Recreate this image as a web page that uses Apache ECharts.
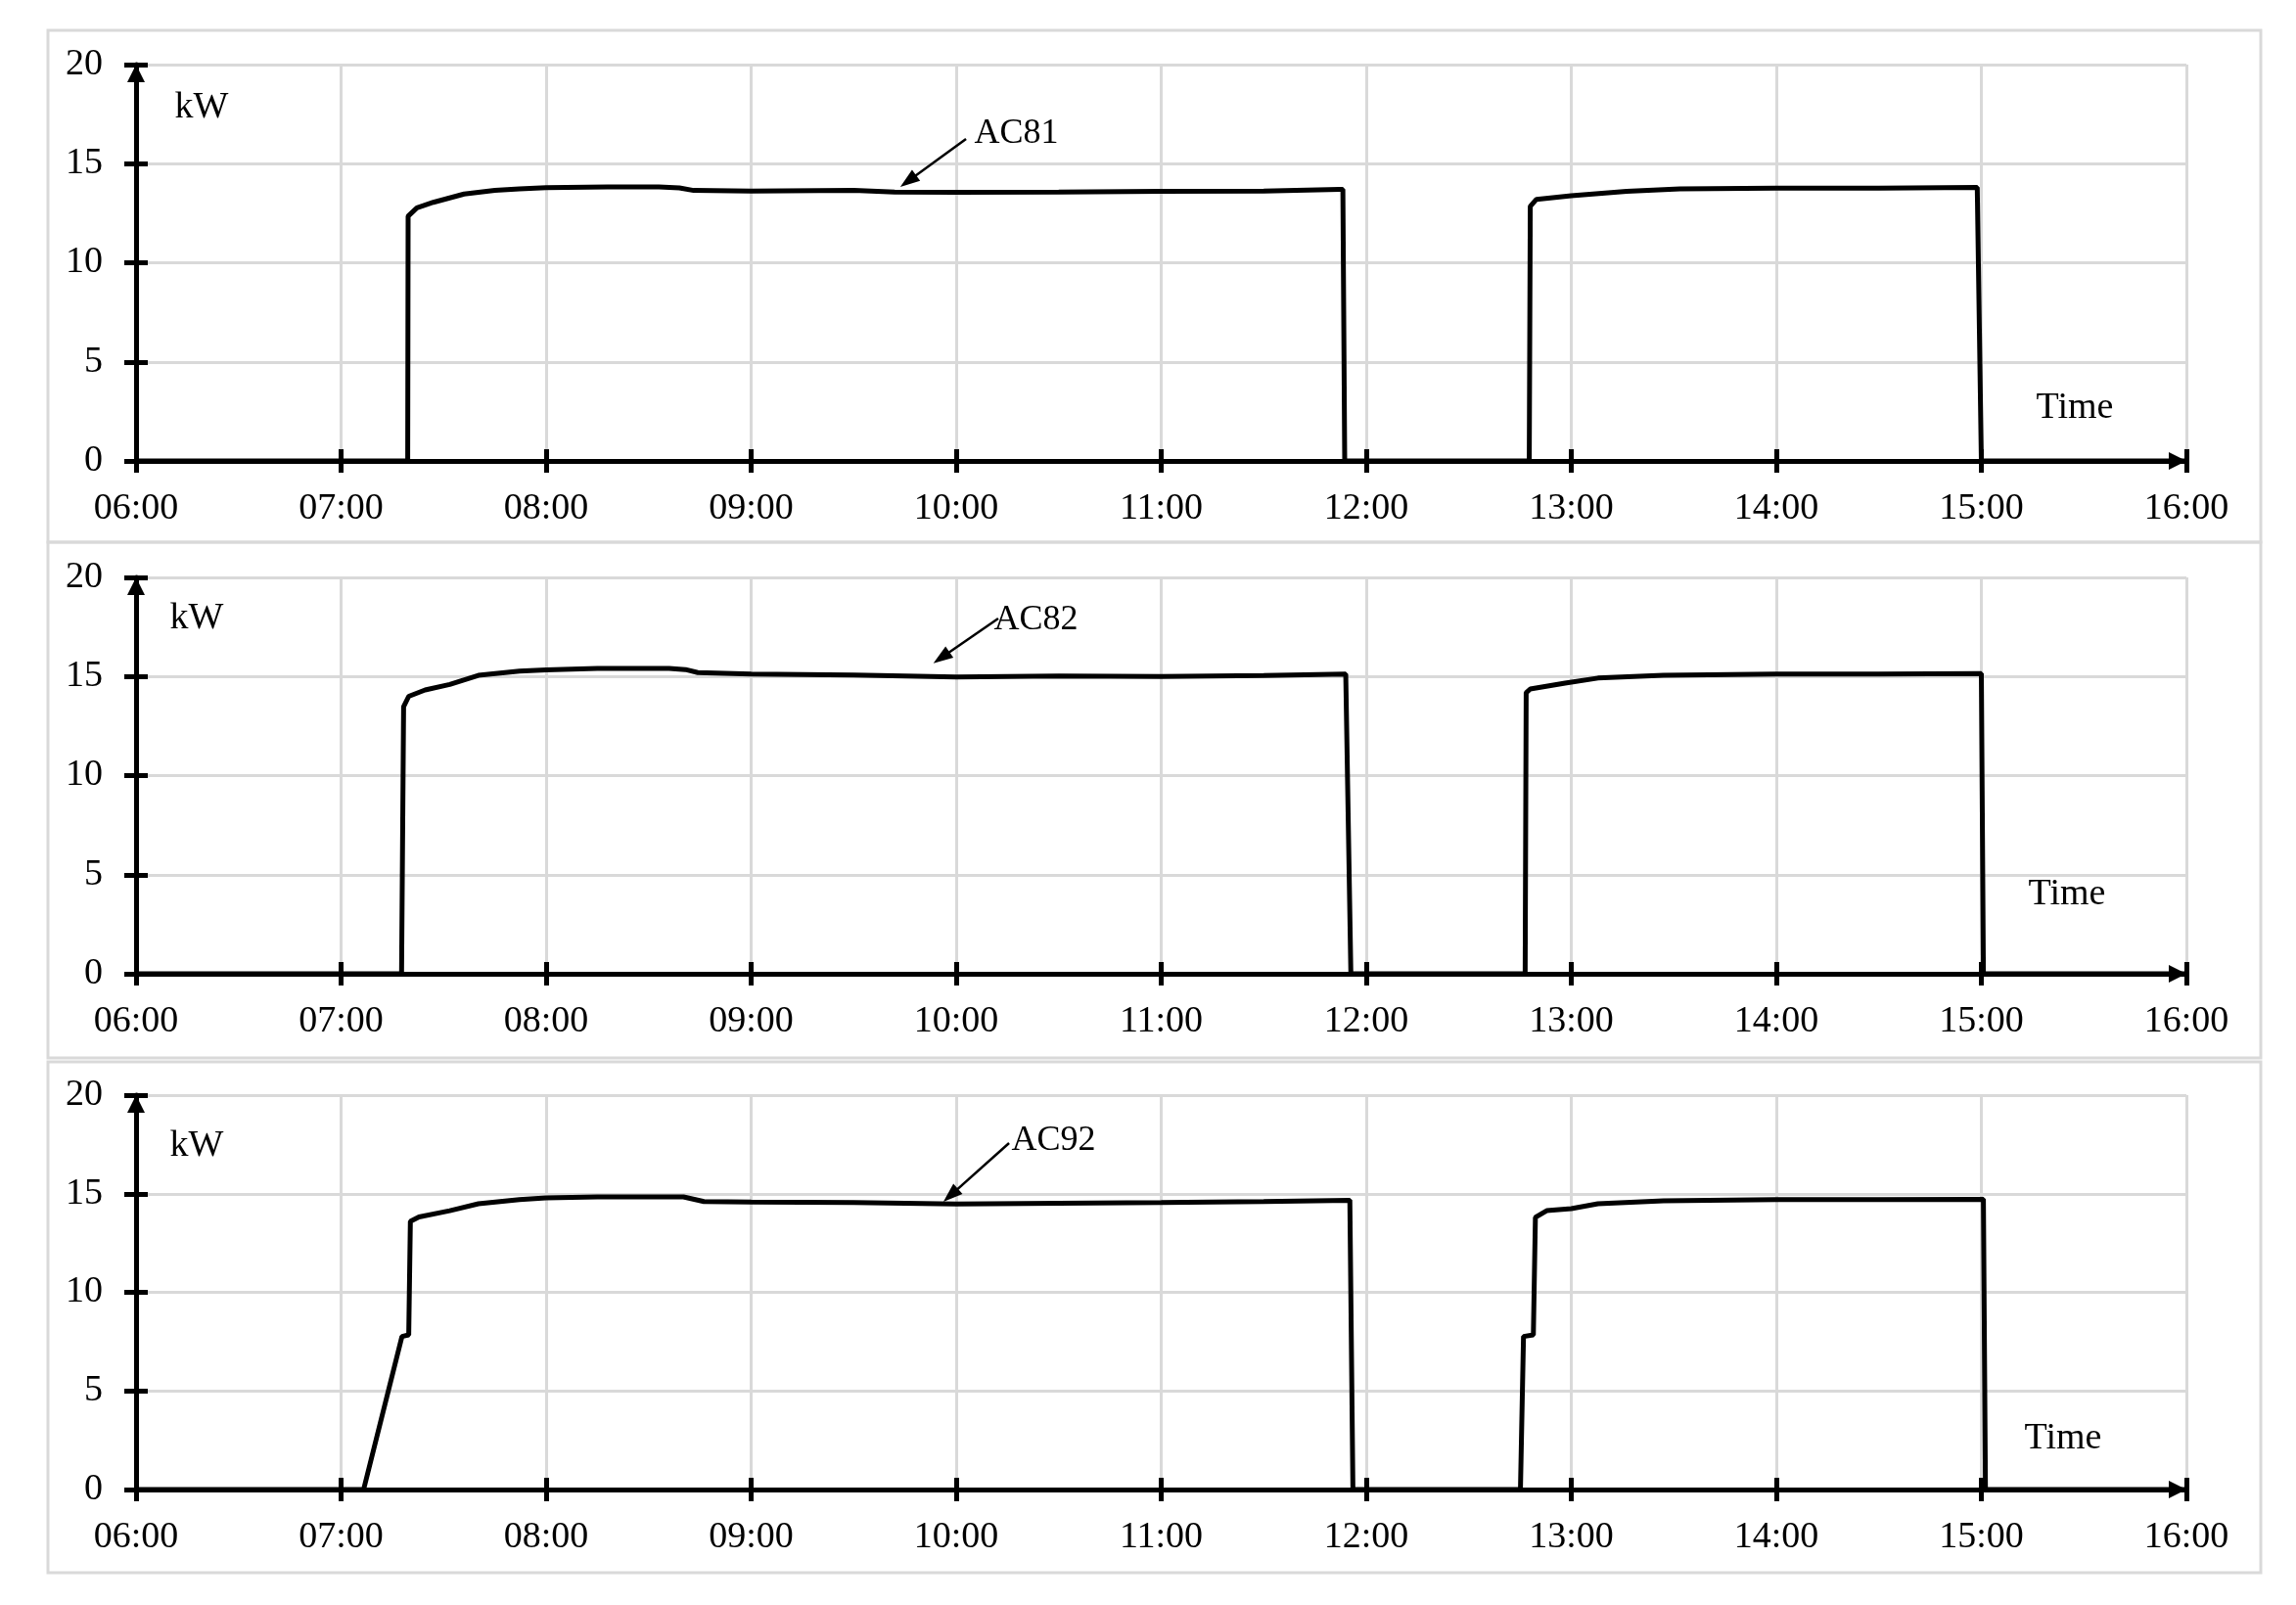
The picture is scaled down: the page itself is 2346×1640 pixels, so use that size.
<!DOCTYPE html>
<html>
<head>
<meta charset="utf-8">
<script src="https://cdn.jsdelivr.net/npm/echarts@6/dist/echarts.min.js"></script>
<style>
  html, body { margin: 0; padding: 0; background: #fff; }
  #chart { width: 2346px; height: 1640px; }
</style>
</head>
<body>
<div id="chart"></div>
<script>
// hour of day (decimal) vs kW
const ac81 = [
  [6.0, 0], [7.325, 0], [7.327, 12.35], [7.37, 12.77], [7.45, 13.05], [7.6, 13.47],
  [7.75, 13.65], [7.87, 13.73], [8.0, 13.79], [8.3, 13.83], [8.55, 13.83], [8.65, 13.78],
  [8.72, 13.65], [9.0, 13.62], [9.5, 13.65], [9.7, 13.57], [10.0, 13.55], [10.5, 13.57],
  [11.0, 13.6], [11.5, 13.62], [11.87, 13.7], [11.886, 13.7], [11.895, 0], [12.795, 0],
  [12.8, 12.85], [12.83, 13.2], [13.0, 13.38], [13.27, 13.6], [13.53, 13.73], [14.0, 13.77],
  [14.5, 13.76], [14.98, 13.8], [15.0, 0], [16.0, 0]
]
const ac82 = [
  [6.0, 0], [7.295, 0], [7.305, 13.48], [7.33, 14.0], [7.41, 14.32], [7.53, 14.6],
  [7.67, 15.06], [7.87, 15.27], [8.0, 15.33], [8.25, 15.41], [8.6, 15.41], [8.68, 15.35],
  [8.74, 15.2], [9.0, 15.12], [9.5, 15.08], [10.0, 14.98], [10.5, 15.02], [11.0, 15.0],
  [11.5, 15.05], [11.9, 15.12], [11.925, 0], [12.775, 0], [12.78, 14.18], [12.8, 14.37],
  [12.97, 14.67], [13.13, 14.92], [13.45, 15.06], [14.0, 15.12], [14.5, 15.12], [15.0, 15.15],
  [15.01, 0], [16.0, 0]
]
const ac92 = [
  [6.0, 0], [7.11, 0], [7.297, 7.76], [7.33, 7.84], [7.338, 13.6], [7.38, 13.82],
  [7.53, 14.14], [7.67, 14.49], [7.87, 14.7], [8.0, 14.79], [8.25, 14.84], [8.67, 14.84],
  [8.77, 14.6], [9.0, 14.58], [9.5, 14.55], [10.0, 14.48], [10.5, 14.52], [11.0, 14.55],
  [11.5, 14.6], [11.92, 14.67], [11.935, 0], [12.752, 0], [12.767, 7.76], [12.815, 7.84],
  [12.825, 13.8], [12.88, 14.14], [13.0, 14.24], [13.13, 14.49], [13.45, 14.64], [14.0, 14.7],
  [14.5, 14.7], [15.01, 14.72], [15.02, 0], [16.0, 0]
]

const seriesNames = ['AC81', 'AC82', 'AC92']
const seriesData = [ac81, ac82, ac92]
// annotation: label anchor, arrow start, arrow end (data coords)
const labelAt = [[10.086, 16.54], [10.181, 17.83], [10.267, 17.67]]
const arrowFrom = [[10.048, 16.25], [10.205, 17.93], [10.258, 17.57]]
const arrowTo = [[9.766, 14.12], [9.928, 15.95], [9.973, 14.92]]

const hourTicks = { min: 6, max: 16, interval: 1 }
const kwTicks = { min: 0, max: 20, interval: 5 }

const FONT = '"Liberation Serif", "Times New Roman", serif'
const grids = [
  { left: 139, top: 66, width: 2095, height: 405 },
  { left: 139, top: 590, width: 2095, height: 405 },
  { left: 139, top: 1119, width: 2095, height: 403 },
]
const panels = [[49, 31, 2261, 523], [49, 554, 2261, 527], [49, 1085, 2261, 522]]
const kwPos = [[206, 110], [201, 632], [201, 1171]]
const timePos = [[2120, 417], [2112, 914], [2108, 1470]]

const fmtHour = (v) => (v < 10 ? '0' : '') + v + ':00'

const xAxis = []
const yAxis = []
const series = []

grids.forEach((g, i) => {
  // main axes
  xAxis.push({
    type: 'value', gridIndex: i, ...hourTicks,
    axisLine: { show: true, lineStyle: { color: '#000', width: 5 }, symbol: ['none', 'triangle'], symbolSize: [18, 18], symbolOffset: [0, -9] },
    axisTick: { show: true, length: 12, lineStyle: { color: '#000', width: 5 } },
    axisLabel: { formatter: fmtHour, color: '#000', fontSize: 38, fontFamily: FONT, margin: 30, showMinLabel: true, showMaxLabel: true },
    splitLine: { show: true, lineStyle: { color: '#d9d9d9', width: 3 } },
  })
  yAxis.push({
    type: 'value', gridIndex: i, ...kwTicks,
    axisLine: { show: true, lineStyle: { color: '#000', width: 5 }, symbol: ['none', 'triangle'], symbolSize: [18, 18], symbolOffset: [0, -9] },
    axisTick: { show: true, length: 12, lineStyle: { color: '#000', width: 5 } },
    axisLabel: { color: '#000', fontSize: 38, fontFamily: FONT, margin: 34, padding: [12, 0, 0, 0] },
    splitLine: { show: true, lineStyle: { color: '#d9d9d9', width: 3 } },
  })
})
// helper axes giving the inner half of the crossing ticks
grids.forEach((g, i) => {
  xAxis.push({
    type: 'value', gridIndex: i, ...hourTicks, position: 'bottom', offset: 0,
    axisLine: { show: false }, axisLabel: { show: false }, splitLine: { show: false },
    axisTick: { show: true, inside: true, length: 12, lineStyle: { color: '#000', width: 5 } },
  })
  yAxis.push({
    type: 'value', gridIndex: i, ...kwTicks, position: 'left', offset: 0,
    axisLine: { show: false }, axisLabel: { show: false }, splitLine: { show: false },
    axisTick: { show: true, inside: true, length: 12, lineStyle: { color: '#000', width: 5 } },
  })
})

seriesData.forEach((d, i) => {
  series.push({
    name: seriesNames[i],
    type: 'line',
    xAxisIndex: i,
    yAxisIndex: i,
    data: d,
    showSymbol: false,
    lineStyle: { color: '#000', width: 5 },
    z: 3,
    markLine: {
      silent: true,
      symbol: ['none', 'triangle'],
      symbolSize: [14, 20],
      lineStyle: { color: '#000', width: 2.5, type: 'solid' },
      label: { show: false },
      data: [[{ coord: arrowFrom[i] }, { coord: arrowTo[i] }]],
    },
    markPoint: {
      silent: true,
      symbol: 'circle',
      symbolSize: 1,
      itemStyle: { color: 'rgba(0,0,0,0)' },
      label: { show: true, position: 'right', distance: 0, formatter: seriesNames[i], color: '#000', fontSize: 36, fontFamily: FONT },
      data: [{ coord: labelAt[i] }],
    },
  })
})

const graphic = []
panels.forEach((p) => {
  graphic.push({ type: 'rect', shape: { x: p[0], y: p[1], width: p[2], height: p[3] }, style: { fill: 'none', stroke: '#d9d9d9', lineWidth: 3 }, silent: true, z: -1 })
})
kwPos.forEach((p) => {
  graphic.push({ type: 'text', x: p[0], y: p[1], style: { text: 'kW', fill: '#000', font: '38px ' + FONT, textAlign: 'center', textVerticalAlign: 'middle' }, silent: true })
})
timePos.forEach((p) => {
  graphic.push({ type: 'text', x: p[0], y: p[1], style: { text: 'Time', fill: '#000', font: '38px ' + FONT, textAlign: 'center', textVerticalAlign: 'middle' }, silent: true })
})

const chart = echarts.init(document.getElementById('chart'))
chart.setOption({
  backgroundColor: '#fff',
  animation: false,
  grid: grids,
  xAxis,
  yAxis,
  series,
  graphic,
})
</script>
</body>
</html>
